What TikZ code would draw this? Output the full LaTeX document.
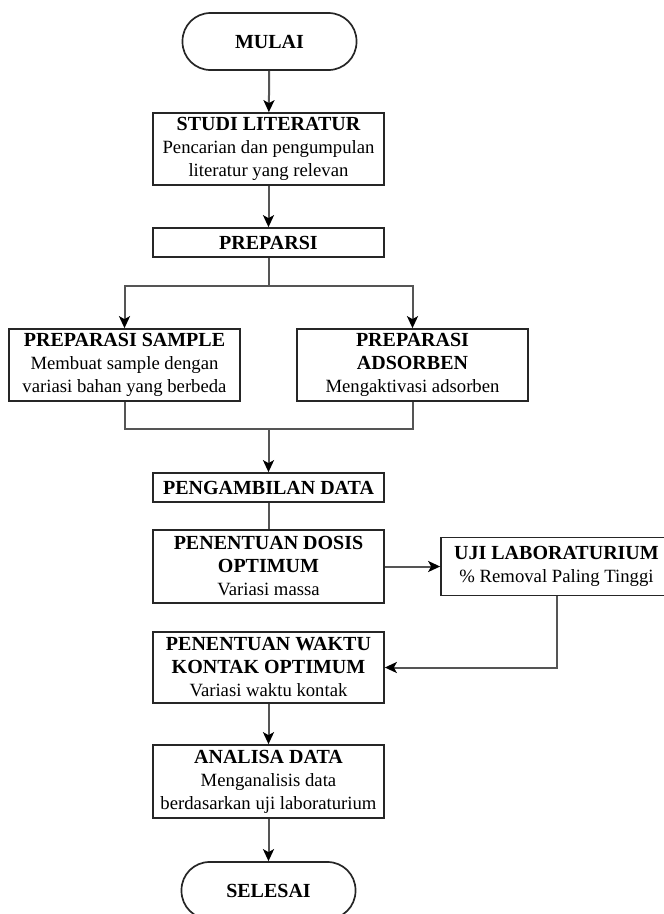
\documentclass[tikz,border=0pt]{standalone}
\usepackage{fontspec}
\setmainfont{Liberation Serif}
\usetikzlibrary{arrows.meta}
\definecolor{lgray}{RGB}{85,85,85}
\newcommand{\ttl}[1]{{\fontsize{20}{23}\selectfont\bfseries #1}}
\tikzset{
  box/.style={draw=black!85,line width=1.7pt,minimum width=231,inner sep=0pt,align=center,font=\fontsize{18.7}{23}\selectfont},
  term/.style={draw=black!85,line width=1.7pt,rounded corners=28pt,minimum width=174,minimum height=57,inner sep=0pt,font=\fontsize{20}{23}\selectfont\bfseries},
  ln/.style={draw=lgray,line width=2pt},
  arr/.style={ln,-{Stealth[length=12pt,width=11pt,inset=3pt,color=black]}},
}
\begin{document}
\begin{tikzpicture}[x=1pt,y=-1pt]
\clip (0,0) rectangle (664,914);
\fill[white] (0,0) rectangle (664,914);
\node[term] (mulai) at (269.5,41.5) {MULAI};
\node[box,minimum height=72] (studi) at (268.5,149) {\ttl{STUDI LITERATUR}\\Pencarian dan pengumpulan\\literatur yang relevan};
\node[box,minimum height=29] (prep) at (268.5,242.5) {\ttl{PREPARSI}};
\node[box,minimum height=72] (sample) at (124.5,365) {\ttl{PREPARASI SAMPLE}\\Membuat sample dengan\\variasi bahan yang berbeda};
\node[box,minimum height=72] (adsorb) at (412.5,365) {\ttl{PREPARASI}\\\ttl{ADSORBEN}\\Mengaktivasi adsorben};
\node[box,minimum height=29] (ambil) at (268.5,487.5) {\ttl{PENGAMBILAN DATA}};
\node[box,minimum height=73] (dosis) at (268.5,566.5) {\ttl{PENENTUAN DOSIS}\\\ttl{OPTIMUM}\\Variasi massa};
\node[box,minimum height=58] (uji) at (556.5,566.5) {\ttl{UJI LABORATURIUM}\\\% Removal Paling Tinggi};
\node[box,minimum height=71] (waktu) at (268.5,667.5) {\ttl{PENENTUAN WAKTU}\\\ttl{KONTAK OPTIMUM}\\Variasi waktu kontak};
\node[box,minimum height=73] (analisa) at (268.5,781.5) {\ttl{ANALISA DATA}\\Menganalisis data\\berdasarkan uji laboraturium};
\node[term] (selesai) at (268.5,890.5) {SELESAI};
\coordinate (split) at (268.5,286);
\coordinate (join) at (268.5,429);
\draw[arr] (mulai) -- (studi);
\draw[arr] (studi) -- (prep);
\draw[ln] (prep.south) -- (split);
\draw[arr] (split) -| (sample.north);
\draw[arr] (split) -| (adsorb.north);
\draw[ln] (sample.south) |- (join) -| (adsorb.south);
\draw[arr] (join) -- (ambil);
\draw[ln] (ambil) -- (dosis);
\draw[arr] (dosis) -- (uji);
\draw[arr] (uji.south) |- (waktu.east);
\draw[arr] (waktu) -- (analisa);
\draw[arr] (analisa) -- (selesai);
\end{tikzpicture}
\end{document}
